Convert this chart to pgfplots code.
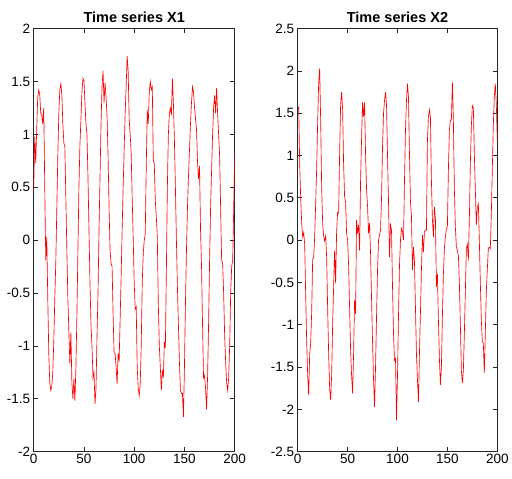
\documentclass[border=0pt]{standalone}
\usepackage{fontspec}
\setmainfont{Liberation Sans}
\usepackage{pgfplots}
\pgfplotsset{compat=1.18}
\definecolor{axgray}{rgb}{0.15,0.15,0.15}
\pgfplotsset{
  mystyle/.style={
    scale only axis, height=423pt, anchor=south west,
    xmin=0, xmax=200, xtick={0,50,100,150,200},
    axis line style={axgray, line width=0.8pt},
    tick style={axgray, line width=0.8pt},
    major tick length=4.5pt,
    tick align=inside,
    ticklabel style={font=\fontsize{13.5}{13.5}\selectfont, text=black},
    xticklabel style={yshift=1pt},
    every axis title/.style={at={(0.5,1)}, anchor=base, yshift=6.5pt, inner sep=0pt, font=\bfseries\fontsize{14.5}{15}\selectfont},
    /pgf/number format/assume math mode=true,
  }
}
\begin{document}
\begin{tikzpicture}
\path[use as bounding box] (0pt,0pt) rectangle (512pt,479pt);
\begin{axis}[mystyle, at={(33.7pt,27.3pt)}, width=201pt,
  ymin=-2, ymax=2, ytick={-2,-1.5,-1,-0.5,0,0.5,1,1.5,2},
  yticklabels={-2,-1.5,-1,-0.5,0,0.5,1,1.5,2},
  title={Time series X1}]
\addplot[red, line width=0.65pt, mark=none] coordinates {
(0,0.47) (1,0.98) (2,0.73) (3,1.05) (4,1.35) (5,1.42) (6,1.38) (7,1.2) (8,1.18) (9,1.1) (10,1.25) (11,0.5) (12,-0.19) (13,0.03) (14,-0.55) (15,-1.07) (16,-1.35) (17,-1.42) (18,-1.38) (19,-1.25) (20,-0.95) (21,-0.55) (22,-0.2) (23,0.3) (24,0.8) (25,1.2) (26,1.42) (27,1.48) (28,1.38) (29,1.1) (30,0.92) (31,0.88) (32,0.4) (33,-0.1) (34,-0.55) (35,-0.87) (36,-1.17) (37,-0.87) (38,-1.35) (39,-1.5) (40,-1.31) (41,-1.52) (42,-1.2) (43,-0.7) (44,-0.1) (45,0.5) (46,0.9) (47,1.14) (48,1.4) (49,1.53) (50,1.51) (51,1.3) (52,1.1) (53,1.0) (54,0.6) (55,0.1) (56,-0.4) (57,-0.8) (58,-1.0) (59,-1.3) (60,-1.25) (61,-1.55) (62,-1.4) (63,-0.9) (64,-0.5) (65,0.1) (66,0.6) (67,1.1) (68,1.45) (69,1.6) (70,1.3) (71,1.49) (72,1.35) (73,1.17) (74,0.8) (75,0.3) (76,-0.1) (77,-0.22) (78,-0.25) (79,-0.7) (80,-1.07) (81,-1.07) (82,-1.2) (83,-1.36) (84,-1.07) (85,-1.15) (86,-0.75) (87,-0.35) (88,0.1) (89,0.5) (90,0.85) (91,1.2) (92,1.45) (93,1.74) (94,1.6) (95,1.14) (96,1.0) (97,0.82) (98,0.4) (99,0.03) (100,-0.4) (101,-0.65) (102,-0.63) (103,-1.2) (104,-1.4) (105,-1.47) (106,-1.36) (107,-1.0) (108,-0.4) (109,-0.13) (110,0.0) (111,0.06) (112,0.7) (113,1.23) (114,1.1) (115,1.4) (116,1.5) (117,1.42) (118,1.45) (119,0.76) (120,0.72) (121,0.38) (122,0.22) (123,0.03) (124,-0.6) (125,-1.0) (126,-1.2) (127,-1.42) (128,-1.23) (129,-1.3) (130,-0.96) (131,-1.02) (132,-0.3) (133,0.5) (134,1.0) (135,1.2) (136,1.25) (137,1.18) (138,1.53) (139,1.3) (140,0.95) (141,0.5) (142,0.0) (143,-0.44) (144,-0.8) (145,-1.15) (146,-1.42) (147,-1.45) (148,-1.45) (149,-1.67) (150,-1.2) (151,-0.6) (152,-0.1) (153,0.3) (154,0.6) (155,0.85) (156,1.1) (157,1.3) (158,1.45) (159,1.4) (160,1.26) (161,1.15) (162,1.05) (163,0.74) (164,0.58) (165,0.7) (166,0.1) (167,-0.25) (168,-0.8) (169,-1.3) (170,-1.28) (171,-1.4) (172,-1.6) (173,-1.3) (174,-0.8) (175,-0.2) (176,0.3) (177,0.66) (178,1.0) (179,1.25) (180,1.37) (181,1.2) (182,1.44) (183,1.2) (184,1.0) (185,0.8) (186,0.3) (187,-0.19) (188,-0.22) (189,-0.5) (190,-0.9) (191,-1.15) (192,-1.35) (193,-1.42) (194,-1.3) (195,-1.0) (196,-0.5) (197,-0.25) (198,-0.19) (199,0.3) (200,0.82)
};
\end{axis}
\begin{axis}[mystyle, at={(297.7pt,27.3pt)}, width=199.6pt,
  ymin=-2.5, ymax=2.5, ytick={-2.5,-2,-1.5,-1,-0.5,0,0.5,1,1.5,2,2.5},
  yticklabels={-2.5,-2,-1.5,-1,-0.5,0,0.5,1,1.5,2,2.5},
  title={Time series X2}]
\addplot[red, line width=0.65pt, mark=none] coordinates {
(0,1.55) (1,1.57) (2,0.9) (3,0.5) (4,0.2) (5,0.04) (6,0.09) (7,-0.05) (8,-0.65) (9,-1.2) (10,-1.6) (11,-1.83) (12,-1.34) (13,-1.22) (14,-0.85) (15,-0.22) (16,-0.21) (17,0.04) (18,0.43) (19,0.85) (20,1.4) (21,1.85) (22,2.03) (23,1.42) (24,0.63) (25,0.2) (26,0.05) (27,-0.01) (28,0.05) (29,-0.2) (30,-0.8) (31,-1.34) (32,-1.75) (33,-1.89) (34,-1.6) (35,-1.0) (36,-0.55) (37,-0.12) (38,-0.51) (39,0.1) (40,0.33) (41,0.32) (42,1.02) (43,1.6) (44,1.75) (45,1.55) (46,0.9) (47,0.51) (48,0.45) (49,0.08) (50,0.0) (51,-0.3) (52,-0.8) (53,-1.3) (54,-1.6) (55,-1.81) (56,-1.34) (57,-0.71) (58,-0.87) (59,0.24) (60,0.08) (61,0.18) (62,-0.12) (63,0.7) (64,1.2) (65,1.63) (66,1.46) (67,1.63) (68,1.02) (69,0.6) (70,0.4) (71,0.08) (72,0.2) (73,-0.15) (74,-0.7) (75,-1.2) (76,-1.65) (77,-1.97) (78,-1.5) (79,-0.9) (80,-0.35) (81,0.0) (82,0.06) (83,0.12) (84,0.5) (85,1.1) (86,1.5) (87,1.65) (88,1.75) (89,1.6) (90,1.0) (91,0.45) (92,-0.2) (93,0.18) (94,0.12) (95,-0.55) (96,-1.1) (97,-1.42) (98,-1.4) (99,-2.13) (100,-1.6) (101,-0.9) (102,-0.3) (103,0.0) (104,0.14) (105,0.1) (106,0.0) (107,0.7) (108,1.3) (109,1.65) (110,1.85) (111,1.69) (112,1.02) (113,0.45) (114,0.28) (115,-0.35) (116,-0.08) (117,-0.25) (118,-0.8) (119,-1.35) (120,-1.65) (121,-1.91) (122,-1.34) (123,-0.85) (124,-0.35) (125,0.06) (126,-0.14) (127,0.1) (128,0.12) (129,0.12) (130,1.18) (131,1.46) (132,1.54) (133,1.45) (134,0.7) (135,0.24) (136,0.04) (137,0.39) (138,0.25) (139,-0.55) (140,-0.4) (141,-0.94) (142,-1.4) (143,-1.71) (144,-1.5) (145,-0.9) (146,-0.4) (147,-0.1) (148,0.04) (149,0.14) (150,0.16) (151,0.83) (152,1.3) (153,1.42) (154,1.42) (155,1.87) (156,1.42) (157,0.6) (158,0.15) (159,-0.08) (160,-0.12) (161,-0.18) (162,-0.5) (163,-1.0) (164,-1.54) (165,-1.69) (166,-1.54) (167,-1.1) (168,-0.6) (169,-0.1) (170,-0.05) (171,-0.24) (172,0.24) (173,0.9) (174,1.35) (175,1.59) (176,1.57) (177,1.02) (178,0.6) (179,0.18) (180,0.39) (181,0.43) (182,0.0) (183,-0.5) (184,-0.94) (185,-1.2) (186,-1.22) (187,-1.57) (188,-1.1) (189,-0.6) (190,-0.35) (191,-0.1) (192,-0.08) (193,-0.1) (194,0.3) (195,0.83) (196,1.35) (197,1.7) (198,1.85) (199,1.61) (200,1.18)
};
\end{axis}
\end{tikzpicture}
\end{document}
